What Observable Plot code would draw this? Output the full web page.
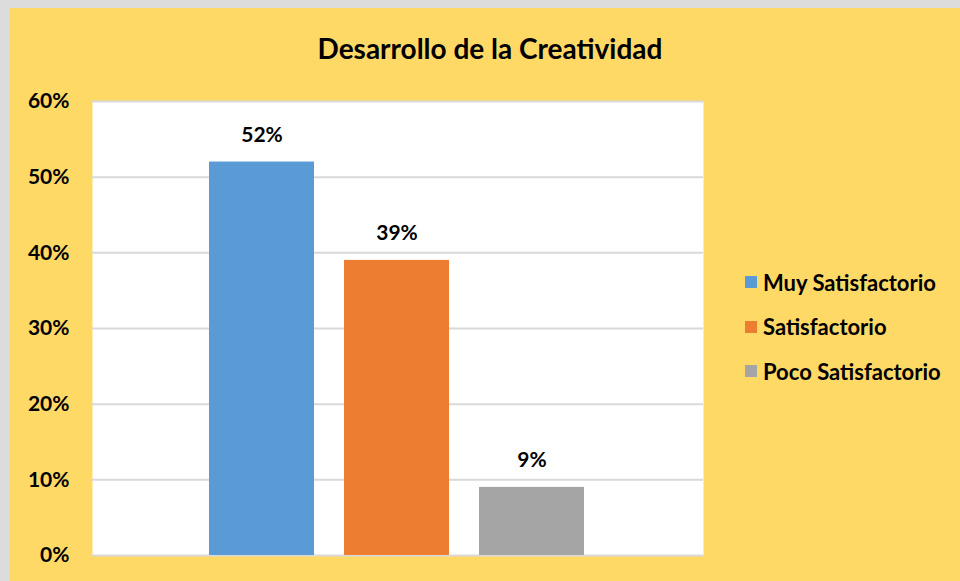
<!DOCTYPE html>
<html>
<head>
<meta charset="utf-8">
<script src="https://cdn.jsdelivr.net/npm/d3@7"></script>
<script src="https://cdn.jsdelivr.net/npm/@observablehq/plot@0.6"></script>
<style>
  html, body { margin: 0; padding: 0; background: #dcdcdc; width: 960px; height: 581px; overflow: hidden; }
  #chart { position: absolute; left: 10px; top: 8px; width: 950px; height: 573px; background: #FFD966; font-family: Lato, "Open Sans", sans-serif; }
  #title { position: absolute; left: 5px; top: 0; width: 950px; height: 80px; line-height: 80px; text-align: center; font-weight: bold; font-size: 28px; color: #000; }
  #plot { position: absolute; left: 0; top: 80px; }
  #legend { position: absolute; left: 735px; top: 252px; }
  .item { display: flex; align-items: center; height: 44.5px; font-weight: bold; font-size: 22px; color: #000; white-space: nowrap; }
  .sw { width: 12px; height: 12px; margin-right: 6px; flex: none; }
</style>
</head>
<body>
<div id="chart">
  <div id="title">Desarrollo de la Creatividad</div>
  <div id="plot"></div>
  <div id="legend"></div>
</div>
<script>
const categories = ["Muy Satisfactorio", "Satisfactorio", "Poco Satisfactorio"];
const values = [52, 39, 9];
const colors = ["#5B9BD5", "#ED7D31", "#A5A5A5"];
const yTicks = [0, 10, 20, 30, 40, 50, 60];

const data = categories.map((c, i) => ({category: c, value: values[i]}));

const plot = Plot.plot({
  width: 950,
  height: 493,
  marginLeft: 82,
  marginRight: 257,
  marginTop: 13,
  marginBottom: 26,
  style: {background: "transparent", fontFamily: "Lato, 'Open Sans', sans-serif", color: "#000"},
  x: {domain: categories, range: [198, 576], paddingInner: 0.22, paddingOuter: 0, axis: null},
  y: {domain: [0, 60], label: null},
  color: {domain: categories, range: colors},
  marks: [
    Plot.frame({fill: "white", stroke: null}),
    Plot.ruleY(yTicks, {stroke: "#d9d9d9", strokeWidth: 2, strokeOpacity: 1}),
    Plot.axisY({ticks: yTicks, tickFormat: d => d + "%", tickSize: 0, tickPadding: 23, fontSize: 21, fontWeight: "bold", label: null}),
    Plot.barY(data, {x: "category", y: "value", fill: "category"}),
    Plot.text(data, {x: "category", y: "value", text: d => d.value + "%", dy: -27, fontSize: 21, fontWeight: "bold", fill: "#000"})
  ]
});
document.getElementById("plot").appendChild(plot);

const legend = document.getElementById("legend");
categories.forEach((c, i) => {
  const row = document.createElement("div");
  row.className = "item";
  const sw = document.createElement("span");
  sw.className = "sw";
  sw.style.background = colors[i];
  row.appendChild(sw);
  row.appendChild(document.createTextNode(c));
  legend.appendChild(row);
});
</script>
</body>
</html>
